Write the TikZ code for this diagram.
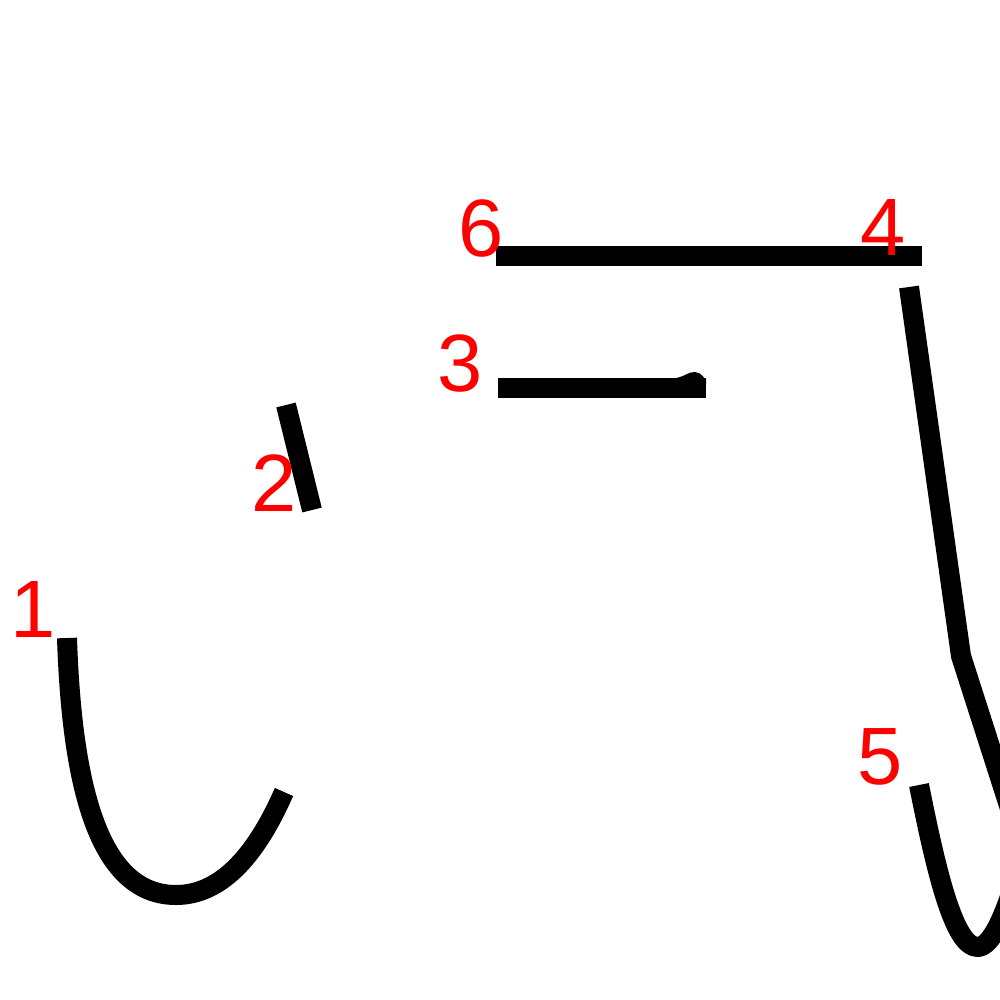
\documentclass[tikz,border=0pt]{standalone}
\usepackage{fontspec}
\setmainfont{Liberation Sans}

\begin{document}
\begin{tikzpicture}[x=0.75pt,y=0.75pt,yscale=-1,xscale=1,
  stroke/.style={line width=15pt, color=black, line cap=butt, line join=round},
  num/.style={text=red, inner sep=0pt, font=\fontsize{61}{61}\selectfont}]
\useasboundingbox (0,0) rectangle (1000,1000);
\clip (0,0) rectangle (1000,1000);

%Curve Lines [stroke 1]
\draw [stroke]  (67,638) .. controls (72,790) and (100,895) .. (176,895) .. controls (228,895) and (262,842) .. (284,792) ;
%Straight Lines [stroke 2]
\draw [stroke]  (286,405) -- (312,510) ;
%Straight Lines [stroke 3]
\draw [stroke]  (498,388) -- (706,388) ;
\fill  (673,378.5) .. controls (684,377.5) and (688,371.5) .. (695,372) .. controls (702,372.5) and (706,379) .. (706,385) -- (706,378.5) -- cycle ;
%Straight Lines [stroke 4]
\draw [stroke]  (909,287) -- (961,656) -- (1012,815) ;
%Curve Lines [stroke 5]
\draw [stroke]  (919,785) .. controls (936,870) and (954,948) .. (978,947) .. controls (992,946) and (1004,915) .. (1014,885) ;
%Straight Lines [stroke 6]
\draw [stroke]  (496,256) -- (922,256) ;

% Text Node
\node [num] (n1) at (33,610) {1};
% Text Node
\node [num] (n2) at (274,483) {2};
% Text Node
\node [num] (n3) at (460,363) {3};
% Text Node
\node [num] (n4) at (883,228) {4};
% Text Node
\node [num] (n5) at (880,757) {5};
% Text Node
\node [num] (n6) at (481,228) {6};

\end{tikzpicture}
\end{document}
